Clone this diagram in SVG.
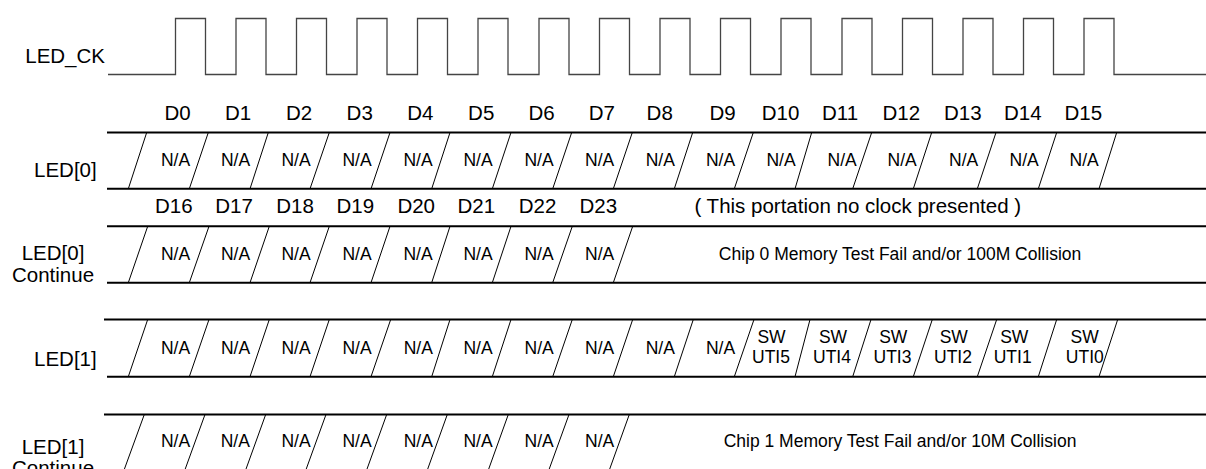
<svg xmlns="http://www.w3.org/2000/svg" width="1206" height="469" viewBox="0 0 1206 469">
<style>
text{font-family:"Liberation Sans",Arial,sans-serif;fill:#000}
.lbl{font-size:20.5px}
.sm{font-size:17.5px;text-anchor:middle}
.mid{text-anchor:middle}
.end{text-anchor:end}
.bus{stroke:#000;stroke-width:2;fill:none}
.sl{stroke:#000;stroke-width:1;fill:none}
.ck{stroke:#444;stroke-width:1.3;fill:none}
</style>
<rect width="1206" height="469" fill="#fff"/>
<g id="clock">
<text class="lbl end" x="105" y="63.3">LED_CK</text>
<path class="ck" d="M108,74.5 H175.5 V18.5 H205.5 V74.5 H236 V18.5 H266 V74.5 H296.5 V18.5 H326.5 V74.5 H357 V18.5 H387 V74.5 H417.5 V18.5 H447.5 V74.5 H478 V18.5 H508 V74.5 H539 V18.5 H569 V74.5 H599.5 V18.5 H629.5 V74.5 H660 V18.5 H690 V74.5 H720.5 V18.5 H750.5 V74.5 H781 V18.5 H811 V74.5 H842 V18.5 H872 V74.5 H902.5 V18.5 H932.5 V74.5 H963 V18.5 H993 V74.5 H1023.5 V18.5 H1053.5 V74.5 H1084 V18.5 H1114 V74.5 H1206"/>
</g>
<g id="d-labels-0">
<text class="lbl mid" x="177.5" y="119.5">D0</text>
<text class="lbl mid" x="238" y="119.5">D1</text>
<text class="lbl mid" x="299" y="119.5">D2</text>
<text class="lbl mid" x="359.7" y="119.5">D3</text>
<text class="lbl mid" x="420.3" y="119.5">D4</text>
<text class="lbl mid" x="481.2" y="119.5">D5</text>
<text class="lbl mid" x="541.5" y="119.5">D6</text>
<text class="lbl mid" x="601.8" y="119.5">D7</text>
<text class="lbl mid" x="659.7" y="119.5">D8</text>
<text class="lbl mid" x="722.5" y="119.5">D9</text>
<text class="lbl mid" x="780.5" y="119.5">D10</text>
<text class="lbl mid" x="840" y="119.5">D11</text>
<text class="lbl mid" x="901.3" y="119.5">D12</text>
<text class="lbl mid" x="962.8" y="119.5">D13</text>
<text class="lbl mid" x="1022.8" y="119.5">D14</text>
<text class="lbl mid" x="1083.3" y="119.5">D15</text>
</g>
<g id="d-labels-1">
<text class="lbl mid" x="173.8" y="213.3">D16</text>
<text class="lbl mid" x="234" y="213.3">D17</text>
<text class="lbl mid" x="295" y="213.3">D18</text>
<text class="lbl mid" x="355.3" y="213.3">D19</text>
<text class="lbl mid" x="416.2" y="213.3">D20</text>
<text class="lbl mid" x="476.3" y="213.3">D21</text>
<text class="lbl mid" x="537.5" y="213.3">D22</text>
<text class="lbl mid" x="598.3" y="213.3">D23</text>
<text class="lbl mid" x="857.8" y="213.3">( This portation no clock presented )</text>
</g>
<g id="connectors">
<line class="bus" x1="107" y1="132.5" x2="1206" y2="132.5"/>
<line class="bus" x1="107" y1="188.8" x2="1206" y2="188.8"/>
<line class="bus" x1="107" y1="226.3" x2="1206" y2="226.3"/>
<line class="bus" x1="107" y1="282.7" x2="1206" y2="282.7"/>
<line class="bus" x1="104" y1="319.5" x2="1206" y2="319.5"/>
<line class="bus" x1="107" y1="376.7" x2="1206" y2="376.7"/>
<line class="bus" x1="104" y1="414.5" x2="1206" y2="414.5"/>
<line class="bus" x1="104" y1="471" x2="1206" y2="471"/>
<path class="sl" d="M128.3,188.8 L146.7,132.5 M189.3,188.8 L208.3,132.5 M250,188.8 L268.3,132.5 M310,188.8 L329.3,132.5 M371,188.8 L390,132.5 M431.7,188.8 L450,132.5 M492.3,188.8 L511,132.5 M552.7,188.8 L571.7,132.5 M613.3,188.8 L632.3,132.5 M674.3,188.8 L692.7,132.5 M734.3,188.8 L753.3,132.5 M795,188.8 L811.7,132.5 M852.7,188.8 L871.7,132.5 M913.3,188.8 L931.7,132.5 M977.3,188.8 L996,132.5 M1038.3,188.8 L1056.7,132.5 M1099,188.8 L1116.7,132.5"/>
<path class="sl" d="M128.3,282.7 L147.7,226.3 M189.3,282.7 L209,226.3 M250,282.7 L269.3,226.3 M310,282.7 L329.3,226.3 M371,282.7 L390,226.3 M431.7,282.7 L450,226.3 M492.3,282.7 L511,226.3 M552.7,282.7 L572.3,226.3 M613.3,282.7 L632.7,226.3"/>
<path class="sl" d="M128.3,376.7 L147.7,319.5 M189.3,376.7 L209,319.5 M250,376.7 L269.3,319.5 M310,376.7 L329.3,319.5 M371,376.7 L390.7,319.5 M431.7,376.7 L450,319.5 M492.3,376.7 L511,319.5 M552.7,376.7 L572.3,319.5 M613.3,376.7 L632.7,319.5 M674.3,376.7 L693.3,319.5 M734.3,376.7 L754,319.5 M795,376.7 L810,319.5 M852.7,376.7 L871,319.5 M913.3,376.7 L932.3,319.5 M977.3,376.7 L996.7,319.5 M1038.3,376.7 L1056.7,319.5 M1099,376.7 L1117.7,319.5"/>
<path class="sl" d="M123.7,471 L144.3,414.5 M184.5,471 L205,414.5 M245.3,471 L265.7,414.5 M305.5,471 L326,414.5 M366.3,471 L386.7,414.5 M427,471 L447.3,414.5 M488,471 L508.3,414.5 M548.5,471 L569,414.5 M609,471 L629.3,414.5"/>
</g>
<g id="led0">
<text class="lbl end" x="96.7" y="177">LED[0]</text>
<text class="sm" x="175.5" y="165.5">N/A</text>
<text class="sm" x="235.5" y="165.5">N/A</text>
<text class="sm" x="296" y="165.5">N/A</text>
<text class="sm" x="357" y="165.5">N/A</text>
<text class="sm" x="418" y="165.5">N/A</text>
<text class="sm" x="478" y="165.5">N/A</text>
<text class="sm" x="539" y="165.5">N/A</text>
<text class="sm" x="599.7" y="165.5">N/A</text>
<text class="sm" x="660.3" y="165.5">N/A</text>
<text class="sm" x="720.5" y="165.5">N/A</text>
<text class="sm" x="781" y="165.5">N/A</text>
<text class="sm" x="842.2" y="165.5">N/A</text>
<text class="sm" x="902.2" y="165.5">N/A</text>
<text class="sm" x="963.7" y="165.5">N/A</text>
<text class="sm" x="1024.2" y="165.5">N/A</text>
<text class="sm" x="1084.2" y="165.5">N/A</text>
</g>
<g id="led0-continue">
<text class="lbl mid" x="53" y="260">LED[0]</text>
<text class="lbl mid" x="53" y="282">Continue</text>
<text class="sm" x="175.5" y="259.5">N/A</text>
<text class="sm" x="235.5" y="259.5">N/A</text>
<text class="sm" x="296" y="259.5">N/A</text>
<text class="sm" x="357" y="259.5">N/A</text>
<text class="sm" x="418" y="259.5">N/A</text>
<text class="sm" x="478" y="259.5">N/A</text>
<text class="sm" x="539" y="259.5">N/A</text>
<text class="sm" x="599.7" y="259.5">N/A</text>
<text class="sm" x="900" y="259.5">Chip 0 Memory Test Fail and/or 100M Collision</text>
</g>
<g id="led1">
<text class="lbl end" x="96.7" y="366">LED[1]</text>
<text class="sm" x="175.5" y="353.5">N/A</text>
<text class="sm" x="235.5" y="353.5">N/A</text>
<text class="sm" x="296" y="353.5">N/A</text>
<text class="sm" x="357" y="353.5">N/A</text>
<text class="sm" x="418.3" y="353.5">N/A</text>
<text class="sm" x="478" y="353.5">N/A</text>
<text class="sm" x="539.2" y="353.5">N/A</text>
<text class="sm" x="599.7" y="353.5">N/A</text>
<text class="sm" x="660.3" y="353.5">N/A</text>
<text class="sm" x="720.5" y="353.5">N/A</text>
<text class="sm" x="771.5" y="343.3">SW</text>
<text class="sm" x="771" y="363.3">UTI5</text>
<text class="sm" x="833" y="343.3">SW</text>
<text class="sm" x="832" y="363.3">UTI4</text>
<text class="sm" x="893.3" y="343.3">SW</text>
<text class="sm" x="892.5" y="363.3">UTI3</text>
<text class="sm" x="953.8" y="343.3">SW</text>
<text class="sm" x="953" y="363.3">UTI2</text>
<text class="sm" x="1014.3" y="343.3">SW</text>
<text class="sm" x="1012.7" y="363.3">UTI1</text>
<text class="sm" x="1084.7" y="343.3">SW</text>
<text class="sm" x="1084.8" y="363.3">UTI0</text>
</g>
<g id="led1-continue">
<text class="lbl mid" x="53" y="454">LED[1]</text>
<text class="lbl mid" x="53" y="475">Continue</text>
<text class="sm" x="175.5" y="447.3">N/A</text>
<text class="sm" x="235.3" y="447.3">N/A</text>
<text class="sm" x="296" y="447.3">N/A</text>
<text class="sm" x="357" y="447.3">N/A</text>
<text class="sm" x="418.3" y="447.3">N/A</text>
<text class="sm" x="478" y="447.3">N/A</text>
<text class="sm" x="539.2" y="447.3">N/A</text>
<text class="sm" x="599.7" y="447.3">N/A</text>
<text class="sm" x="900" y="447.3">Chip 1 Memory Test Fail and/or 10M Collision</text>
</g>
</svg>
